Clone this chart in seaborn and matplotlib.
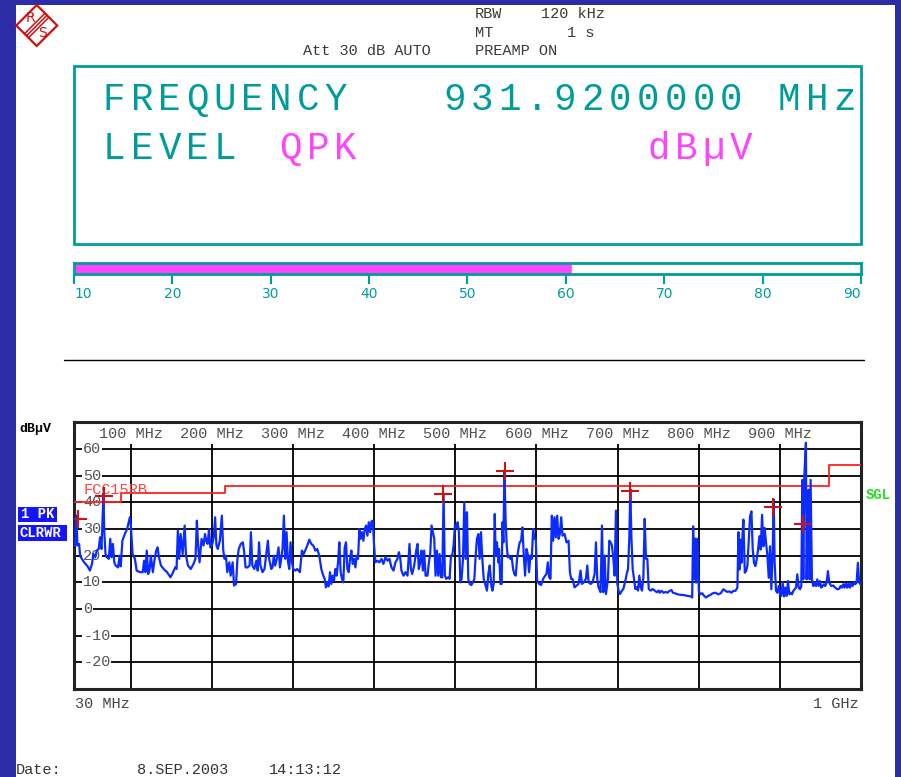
import matplotlib
matplotlib.use("Agg")
import matplotlib.pyplot as plt
import seaborn as sns
from matplotlib.patches import Rectangle, Polygon

# Spectrum trace (MHz, dBuV)
trace_freq = [
    # 30 - 275 MHz
    30, 31.7, 33.3, 34.6, 36.7, 37.9, 40, 42.9, 47.1, 50,
    52.5, 54.2, 56.7, 58.3, 60.8, 62.5, 64.2, 65.8, 66.7, 67.5,
    69.2, 70.8, 73.3, 75, 76.7, 78.3, 80, 81.7, 84.6, 86.7,
    87.9, 90, 92.9, 95.8, 99.2, 100.4, 102.5, 105.4, 107.5, 111.7,
    115, 116.7, 118.3, 120, 121.7, 123.3, 125, 127.5, 130, 131.7,
    133.3, 135, 137.5, 140.8, 145, 149.2, 152.5, 155, 156.7, 158.3,
    160, 161.7, 164.2, 166.7, 168.3, 170.8, 174.2, 177.5, 180, 181.7,
    183.3, 185, 187.5, 190, 191.7, 193.3, 195, 196.7, 198.3, 200.8,
    202.5, 204.2, 205.8, 207.5, 210, 212.5, 214.2, 215.8, 217.5, 219.2,
    221.7, 223.3, 225.8, 227.5, 230, 231.7, 233.3, 235.8, 238.3, 240,
    241.7, 244.2, 246.7, 248.3, 250, 252.5, 255, 256.7, 258.3, 260,
    262.5, 265, 267.5, 269.2, 270.8, 273.3,
    # 275 - 510 MHz
    274.9, 276.5, 278.2, 280.2, 282.3, 284, 285.6, 287.2, 288.9, 290.5,
    292.2, 293.8, 295.5, 297.1, 298.8, 300.4, 302.9, 305.3, 308.6, 311.1,
    313.2, 315.2, 317.7, 320.2, 322.6, 325.1, 327.6, 330, 332.5, 335,
    337.4, 339.1, 340.7, 342.4, 344, 345.7, 347.3, 349, 350.6, 352.3,
    353.9, 355.6, 357.2, 358.8, 360.5, 362.1, 363.8, 365.4, 367.1, 368.7,
    370.4, 372, 373.7, 375.3, 377, 378.6, 380.2, 381.9, 383.5, 385.2,
    386.8, 388.5, 390.1, 391.8, 393.4, 395.1, 396.7, 398.4, 400, 401.6,
    404.1, 406.6, 409.1, 411.5, 414, 416.5, 418.9, 421.4, 423.9, 426.3,
    428.8, 430.5, 432.1, 433.7, 436.2, 438.7, 441.2, 443.6, 445.3, 446.9,
    449.4, 451.9, 453.5, 455.1, 456.8, 458.4, 460.1, 461.7, 463.4, 465.8,
    467.5, 469.1, 470.8, 472.4, 474.1, 475.7, 477.4, 479, 480.7, 482.3,
    484, 485.6, 487.2, 488.9, 491.4, 493, 494.7, 496.3, 497.9, 499.6,
    501.2, 502.9, 504.5, 506.2, 507.8, 509.5,
    # 510 - 750 MHz
    511.1, 512.8, 514.4, 516, 517.7, 519.8, 521.8, 523.5, 525.1, 526.7,
    528.4, 530, 531.7, 533.3, 535, 537.4, 539.1, 540.7, 542.4, 544.4,
    545.7, 547.3, 548.6, 549.8, 551.4, 553.1, 553.9, 555.6, 557.2, 558,
    559.3, 560.5, 562.1, 563.4, 564.6, 566.3, 567.9, 569.5, 571.2, 572.8,
    574.5, 576.1, 577.8, 579.4, 581.1, 582.7, 584.4, 586, 587.7, 589.3,
    590.9, 592.6, 594.2, 595.9, 597.5, 599.2, 600.8, 603.3, 605.8, 608.2,
    610.7, 612.3, 614, 615.6, 617.3, 618.9, 620.6, 622.2, 623.9, 625.5,
    627.2, 628.8, 630.5, 632.1, 634.6, 637, 639.5, 641.2, 642.8, 644.4,
    646.9, 649.4, 651.9, 654.3, 656, 658.4, 660.9, 662.6, 664.2, 666.7,
    669.1, 671.6, 673.3, 674.9, 676.5, 679, 680.7, 682.3, 684, 685.6,
    688.1, 689.7, 691.4, 693, 694.7, 696.3, 697.9, 699.6, 701.2, 702.9,
    705.3, 707, 709.5, 711.1, 712.8, 714.4, 715.6, 716.9, 718.5, 720.2,
    721.8, 723.5, 725.1, 726.7, 728.4, 730, 731.7, 733.3, 734.9, 736.6,
    738.3, 740.7, 743.2, 745.7, 748.1, 750.6,
    # 750 - 1000 MHz
    751.6, 754.1, 756.6, 759, 761.5, 763.9, 766.4, 768, 770.5, 773.8,
    777.9, 782, 786.1, 790.2, 791.8, 793, 794.3, 795.5, 796.7, 798.4,
    800, 801.6, 804.1, 806.6, 809, 811.5, 813.9, 817.2, 820.5, 823.8,
    827, 830.3, 832.8, 835.2, 837.7, 840.2, 842.6, 845.1, 847.5, 848.8,
    850, 851.2, 852.5, 853.7, 854.9, 856.6, 858.2, 859.8, 861.5, 863.1,
    864.8, 866.4, 868, 869.7, 871.3, 873, 874.6, 876.2, 877.9, 879.5,
    881.1, 882.8, 884.4, 886.1, 887.7, 889.3, 891, 892.2, 893.4, 895.1,
    896.7, 898.4, 900, 901.6, 903.3, 904.9, 906.6, 908.2, 909.8, 911.5,
    913.1, 914.8, 916.4, 918, 919.7, 921.3, 923, 924.6, 926.2, 927.5,
    928.7, 929.9, 931.9, 932.8, 934, 935.2, 936.5, 937.7, 939.3, 941,
    942.6, 944.3, 945.9, 947.5, 949.2, 950.8, 952.5, 954.1, 955.7, 957.4,
    959, 960.7, 963.1, 965.6, 968, 970.5, 973, 974.6, 976.2, 977.9,
    979.5, 981.1, 982.8, 984.4, 986.1, 987.7, 989.3, 991, 992.6, 994.3,
    995.9, 997.5, 999,
]
trace_level = [
    # 30 - 275 MHz
    25.6, 23.8, 35, 23.8, 24.4, 20, 18.8, 17.5, 16, 14.4,
    16.9, 20.6, 19.4, 21.9, 22.5, 26.9, 22.5, 36, 43.5, 30,
    20.6, 19.4, 18.8, 26.3, 19.4, 24.4, 17.5, 16.3, 15.6, 20,
    16, 25.6, 28.1, 30, 34.4, 31.3, 20.6, 18.8, 14.4, 13.8,
    13.8, 18.1, 13.8, 21.9, 13.1, 14.4, 20, 13.8, 19.4, 21.9,
    23.1, 19.4, 16.3, 15, 13.8, 11.9, 13.8, 15.6, 15, 29.4,
    18.8, 28.1, 20.6, 31.3, 20, 16.3, 15, 16.9, 18.8, 33.1,
    23.8, 17.5, 26.3, 23.8, 28.1, 25.6, 24.4, 30, 23.1, 24.4,
    26.9, 34.4, 23.8, 22.5, 25.6, 35, 21.9, 18.8, 20, 13.8,
    17.5, 12.5, 17.5, 8.8, 9.4, 18.8, 22.5, 24.4, 25, 21.3,
    15.6, 15.6, 16.3, 28.8, 16.3, 15, 18.1, 14.4, 25, 16.3,
    13.8, 15, 21.3, 25.6, 18.8, 15,
    # 275 - 510 MHz
    15.6, 20, 16.3, 18.8, 23.1, 15.6, 18.8, 22.5, 35, 18.8,
    28.8, 18.1, 15, 25, 17.5, 15, 14.4, 15, 13.8, 21.9,
    20.6, 21.9, 23.8, 26, 24.4, 23.8, 21.9, 22.5, 20, 15,
    12.5, 11.3, 8.1, 10, 8.5, 13.8, 9.4, 12.5, 10.6, 15,
    12.5, 17.5, 25, 13.8, 11.3, 10, 23.1, 25, 15, 13.8,
    18.8, 21.9, 16.9, 18.8, 15.6, 20, 18.8, 30, 26.3, 28.8,
    25.6, 30, 31.3, 27.5, 32.5, 28.8, 32.8, 33.1, 23.8, 17.5,
    18.1, 17.5, 18.8, 16.9, 19.4, 18.1, 18.8, 15.6, 14.4, 17.5,
    18.8, 21.3, 19.4, 14.4, 12.5, 13.8, 12.5, 24.4, 15, 13.1,
    16.3, 21.9, 24.4, 15, 17.5, 21.9, 14.4, 21.9, 12.5, 12.5,
    17.5, 20.6, 31.3, 28.8, 26.3, 12.5, 21.9, 12.5, 20.6, 11.9,
    11.9, 43, 12.5, 11.3, 11.9, 11.3, 20, 20, 23.8, 31.3,
    30.6, 32.5, 28.8, 10, 11.3, 18.8,
    # 510 - 750 MHz
    40, 18.8, 36.3, 11.3, 9.4, 9, 10, 11.3, 20, 26.3,
    28.1, 18.8, 28.8, 18.8, 11.3, 8.8, 6.9, 13.1, 16.3, 8.8,
    6.9, 9.4, 35.6, 20, 25, 17.5, 22.5, 9.4, 9.4, 32.5,
    25, 52, 32.5, 23.8, 19.4, 20, 18.8, 19.4, 15, 13.1,
    12.5, 18.8, 22.5, 25, 25.6, 30.6, 20, 12.5, 22.5, 20.6,
    13.8, 20, 18.8, 30, 26.3, 26.3, 10.6, 9.4, 9, 11.3,
    12.5, 13.1, 17.5, 11.9, 11.3, 35, 25.6, 34.4, 26.9, 35,
    26.3, 28.1, 34.4, 27.5, 28.1, 25, 25.6, 13.8, 11.3, 11.3,
    8.1, 8.8, 9.4, 14.4, 9.4, 10, 11.3, 16.3, 10, 9.4,
    10, 13.1, 25, 11.3, 8.1, 6.3, 31.3, 6.3, 20, 5.6,
    11.3, 25.6, 25, 23.8, 18.8, 12.5, 36.9, 9.4, 6.9, 5.6,
    6.9, 7.5, 10.6, 13.1, 15, 26.9, 45, 27.5, 15, 11.3,
    7.5, 8.1, 6.9, 12.5, 8.1, 6.9, 11.9, 33.8, 18.8, 18.8,
    7.5, 6.9, 7.5, 6.9, 6.3, 6.9,
    # 750 - 1000 MHz
    6.1, 6.8, 6.1, 6.4, 6.1, 6.8, 7.1, 6.1, 5.9, 5.5,
    5.3, 5.2, 4.9, 4.7, 4.3, 31, 11.1, 26.4, 9.9, 26.4,
    6.8, 5.5, 5.9, 4.9, 4.3, 4.9, 5.2, 5.9, 6.1, 5.5,
    5.9, 7.4, 6.8, 6.4, 6.6, 6.1, 6.8, 6.8, 8, 28.8,
    14.8, 26, 17.3, 27.3, 33.5, 13.6, 14.2, 16.1, 26, 34.7,
    36.6, 22.3, 17.3, 16.1, 18.6, 22.3, 27.3, 22.3, 35.3, 23.5,
    30.4, 24.8, 20.4, 11.7, 23.5, 7.4, 22.3, 41, 17.3, 6.8,
    6.1, 8.6, 5.5, 4.9, 9.9, 4.7, 8, 4.9, 10.5, 5.5,
    6.1, 5.5, 6.8, 7.4, 8, 13, 8, 7.4, 8.6, 48.4,
    11.1, 49.6, 62.3, 11.1, 38.4, 44.7, 11.1, 48.4, 11.1, 8.6,
    9.9, 8.6, 11.1, 8.6, 10.5, 8, 8.6, 9.3, 8.6, 9.9,
    14.2, 9.9, 8.6, 8.8, 8, 7.4, 7.6, 8.6, 8, 9.3,
    8, 9.6, 8, 9.6, 8, 9.6, 8.6, 9.9, 9.3, 9.9,
    17.3, 9.9, 9.3,
]

# Peak markers (+)
marker_freq = [35.3, 67.3, 484.8, 560.9, 714.8, 890.9, 927.9]
marker_level = [33.9, 42.2, 43.3, 51.6, 44.4, 38.4, 32.0]

# FCC 15 class B limit line (step)
limit_freq = [30, 88, 216, 960, 1000]
limit_level = [40, 43.5, 46, 54, 54]

y_grid = [60, 50, 40, 30, 20, 10, 0, -10, -20]
x_grid = [100, 200, 300, 400, 500, 600, 700, 800, 900]

# Level meter
meter_ticks = [10, 20, 30, 40, 50, 60, 70, 80, 90]
meter_level = 60.6

TEAL = "#009c9c"
MAGENTA = "#ff44ff"
GREY = "#444444"

sns.set_style("white")
plt.rcParams['font.family'] = ['Liberation Mono', 'DejaVu Sans']

W, H = 901, 777
fig = plt.figure(figsize=(W / 100, H / 100), dpi=100)
fig.patch.set_facecolor("#2d2da6")

# page in pixel coords (y down)
page = fig.add_axes([0, 0, 1, 1])
page.set_xlim(0, W)
page.set_ylim(H, 0)
page.axis("off")
page.add_patch(Rectangle((16, 5), 879, 772, fc="white", ec="none"))

# R&S logo
cx, cy, r = 36.7, 25.5, 20.5
page.add_patch(Polygon([(cx - r, cy), (cx, cy - r), (cx + r, cy), (cx, cy + r)],
                       closed=True, fill=False, ec="#d01010", lw=1.6))
for off in (-2.0, 0, 2.0):
    page.plot([cx - r / 2 + off, cx + r / 2 + off], [cy + r / 2 + off, cy - r / 2 + off],
              color="#d01010", lw=1.1)
page.text(30, 18.5, "R", color="#d01010", fontsize=10, family="DejaVu Sans",
          ha="center", va="center")
page.text(42.5, 33, "S", color="#d01010", fontsize=10, family="DejaVu Sans",
          ha="center", va="center")

# header settings
hdr = dict(fontsize=11, color="#3a3a3a", va="center", ha="left")
page.text(475, 14, "RBW", **hdr)
page.text(541, 14, "120 kHz", **hdr)
page.text(475, 33, "MT", **hdr)
page.text(567, 33, "1 s", **hdr)
page.text(475, 51, "PREAMP ON", **hdr)
page.text(303, 51, "Att 30 dB AUTO", **hdr)


def spaced(x, y, s, color, pitch=27.7, size=27):
    for i, ch in enumerate(s):
        page.text(x + i * pitch, y, ch, color=color, fontsize=size,
                  ha="left", va="baseline")


# big readout
page.add_patch(Rectangle((74, 66), 787, 178, fill=False, ec=TEAL, lw=2))
spaced(103, 110, "FREQUENCY", TEAL)
spaced(443, 110, "931.9200000", TEAL)
spaced(778, 110, "MHz", TEAL)
spaced(103, 159, "LEVEL", TEAL)
spaced(279, 159, "QPK", MAGENTA)
spaced(647, 159, "dBµV", MAGENTA)

# level meter bar
bar = fig.add_axes([74 / W, 1 - 274 / H, 787 / W, 11 / H])
bar.barh(0, meter_level - 10, left=10, height=1.0, color=MAGENTA)
bar.set_xlim(10, 90)
bar.set_ylim(-0.5, 0.5)
bar.set_yticks([])
bar.set_xticks(meter_ticks)
bar.set_xticklabels([str(t) for t in meter_ticks], family="DejaVu Sans")
bar.tick_params(axis="x", direction="out", length=7, width=1.5, colors=TEAL,
                labelsize=10, pad=2, bottom=True)
labels = bar.get_xticklabels()
labels[0].set_ha("left")
labels[-1].set_ha("right")
for sp in bar.spines.values():
    sp.set_color(TEAL)
    sp.set_linewidth(2)

# separator
page.plot([64, 864], [360, 360], color="black", lw=1)

# main spectrum axes
ax = fig.add_axes([73.7 / W, 1 - 689 / H, 787.5 / W, 266.7 / H])
ax.set_xlim(30, 1000)
ax.set_ylim(-30, 70)
ax.hlines(y_grid, 30, 1000, color="black", lw=1.3, zorder=1)
ax.vlines(x_grid, -30, 62, color="black", lw=1.3, zorder=1)
for v in y_grid:
    ax.text(41.5, v, str(v), ha="left", va="center", fontsize=11, color="#555555",
            zorder=2, bbox=dict(fc="white", ec="none", pad=0.6))
for f in x_grid:
    ax.text(f, 65.8, f"{f} MHz", ha="center", va="center", fontsize=11, color="#505050")

ax.plot(limit_freq, limit_level, drawstyle="steps-post", color="#ff2020", lw=1.3, zorder=3)
ax.text(41.5, 44.6, "FCC15RB", color="#ff4040", fontsize=11, ha="left", va="center", zorder=3)

sns.lineplot(x=trace_freq, y=trace_level, ax=ax, color="#0c2cff", lw=1.6,
             estimator=None, sort=False, zorder=4)
sns.scatterplot(x=marker_freq, y=marker_level, ax=ax, marker="+", s=150,
                color="#c81414", linewidth=1.5, zorder=5)

ax.set_xticks([])
ax.set_yticks([])
ax.set_xlabel("")
ax.set_ylabel("")
for sp in ax.spines.values():
    sp.set_color("#222222")
    sp.set_linewidth(2.2)

# side labels
page.text(19, 429, "dBµV", fontsize=9.5, fontweight="bold", color="black", va="center")
page.add_patch(Rectangle((18, 507), 39, 15, fc="#1414ff", ec="none"))
page.text(21, 514.5, "1 PK", fontsize=10, fontweight="bold", color="white", va="center")
page.add_patch(Rectangle((18, 525), 49, 16, fc="#1414ff", ec="none"))
page.text(19, 533, "CLRWR", fontsize=10, fontweight="bold", color="white", va="center")
page.text(866, 495, "SGL", fontsize=10, fontweight="bold", color="#22dd22", va="center")

# bottom texts
page.text(75, 704, "30 MHz", fontsize=11, color=GREY, va="center", ha="left")
page.text(859, 704, "1 GHz", fontsize=11, color=GREY, va="center", ha="right")
page.text(16, 770, "Date:", fontsize=11, color="#333333", va="center", ha="left")
page.text(137, 770, "8.SEP.2003", fontsize=11, color="#333333", va="center", ha="left")
page.text(269, 770, "14:13:12", fontsize=11, color="#333333", va="center", ha="left")

fig.savefig("out.png", dpi=100, facecolor=fig.get_facecolor())
